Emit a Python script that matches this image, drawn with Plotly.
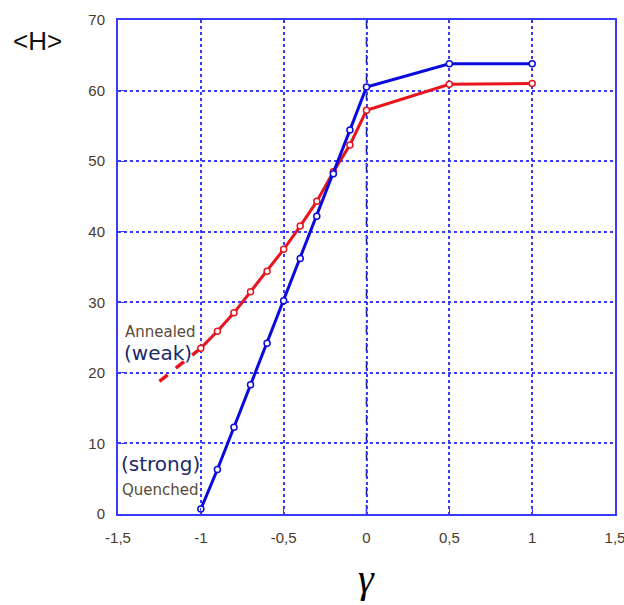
import plotly.graph_objects as go

gamma = [-1.0, -0.9, -0.8, -0.7, -0.6, -0.5, -0.4, -0.3, -0.2, -0.1, 0.0, 0.5, 1.0]
quenched = [0.7, 6.3, 12.3, 18.3, 24.2, 30.2, 36.2, 42.2, 48.2, 54.4, 60.5, 63.8, 63.8]
annealed = [23.5, 25.9, 28.5, 31.5, 34.4, 37.5, 40.8, 44.3, 48.5, 52.3, 57.2, 60.9, 61.0]
annealed_ext_x = [-1.25, -1.0]
annealed_ext_y = [18.8, 23.5]

x_ticks = [-1.5, -1.0, -0.5, 0.0, 0.5, 1.0, 1.5]
x_ticktext = ["-1,5", "-1", "-0,5", "0", "0,5", "1", "1,5"]
y_ticks = [0, 10, 20, 30, 40, 50, 60, 70]

BLUE = "#0a0adc"
RED = "#e8141e"
GRID = "#3a3aff"
TICKC = "#4a3a2a"

fig = go.Figure()
fig.add_trace(go.Scatter(x=annealed_ext_x, y=annealed_ext_y, mode="lines",
                         line=dict(color=RED, width=3.5, dash="dash"), showlegend=False))
fig.add_trace(go.Scatter(x=gamma, y=annealed, mode="lines+markers",
                         line=dict(color=RED, width=3),
                         marker=dict(symbol="circle", size=6, color="white",
                                     line=dict(color=RED, width=1.5)),
                         showlegend=False))
fig.add_trace(go.Scatter(x=gamma, y=quenched, mode="lines+markers",
                         line=dict(color=BLUE, width=3),
                         marker=dict(symbol="circle", size=6, color="white",
                                     line=dict(color=BLUE, width=1.5)),
                         showlegend=False))

fig.add_shape(type="line", x0=0, x1=0, y0=0, y1=70, xref="x", yref="y",
              line=dict(color="#0a1a5a", width=1.5, dash="dash"), layer="below")

fig.update_xaxes(range=[-1.5, 1.5], tickvals=x_ticks, ticktext=x_ticktext,
                 automargin=False, ticklabeloverflow="allow",
                 ticklabelstandoff=9,
                 showgrid=True, gridcolor=GRID, griddash="dot", gridwidth=1.5,
                 zeroline=False, showline=True, linecolor=GRID, linewidth=2,
                 mirror=True, ticks="inside", ticklen=6, tickcolor=GRID,
                 tickfont=dict(family="Arial, Liberation Sans", size=15, color=TICKC))
fig.update_yaxes(range=[0, 70], tickvals=y_ticks, automargin=False,
                 ticklabeloverflow="allow",
                 showgrid=True, gridcolor=GRID, griddash="dot", gridwidth=1.5,
                 zeroline=False, showline=True, linecolor=GRID, linewidth=2,
                 mirror=True, ticks="inside", ticklen=6, tickcolor=GRID,
                 ticklabelstandoff=8,
                 tickfont=dict(family="Arial, Liberation Sans", size=15, color=TICKC))

annotations = [
    dict(text="&lt;H&gt;", x=37, y=41, size=26, color="#111111", family="Arial, Liberation Sans"),
    dict(text="<i>γ</i>", x=366, y=578, size=40, color="#000000", family="Liberation Serif, Times New Roman, serif"),
    dict(text="Annealed", x=160, y=332, size=15, color="#5a4a3a", family="DejaVu Sans, Verdana"),
    dict(text="(weak)", x=158, y=353, size=20, color="#1a2a6a", family="DejaVu Sans, Verdana"),
    dict(text="(strong)", x=160, y=464, size=20, color="#1a2a6a", family="DejaVu Sans, Verdana"),
    dict(text="Quenched", x=160, y=490, size=15, color="#5a4a3a", family="DejaVu Sans, Verdana"),
]
W, H = 624, 605
ml, mr, mt, mb = 118, 9, 20, 91
pw, ph = W - ml - mr, H - mt - mb
for a in annotations:
    fig.add_annotation(text=a["text"], xref="paper", yref="paper",
                       x=(a["x"] - ml) / pw, y=1 - (a["y"] - mt) / ph,
                       xanchor="center", yanchor="middle", showarrow=False,
                       font=dict(size=a["size"], color=a["color"], family=a["family"]))

fig.update_layout(width=W, height=H, margin=dict(l=ml, r=mr, t=mt, b=mb),
                  plot_bgcolor="white", paper_bgcolor="white")
fig.write_html("out.html")
